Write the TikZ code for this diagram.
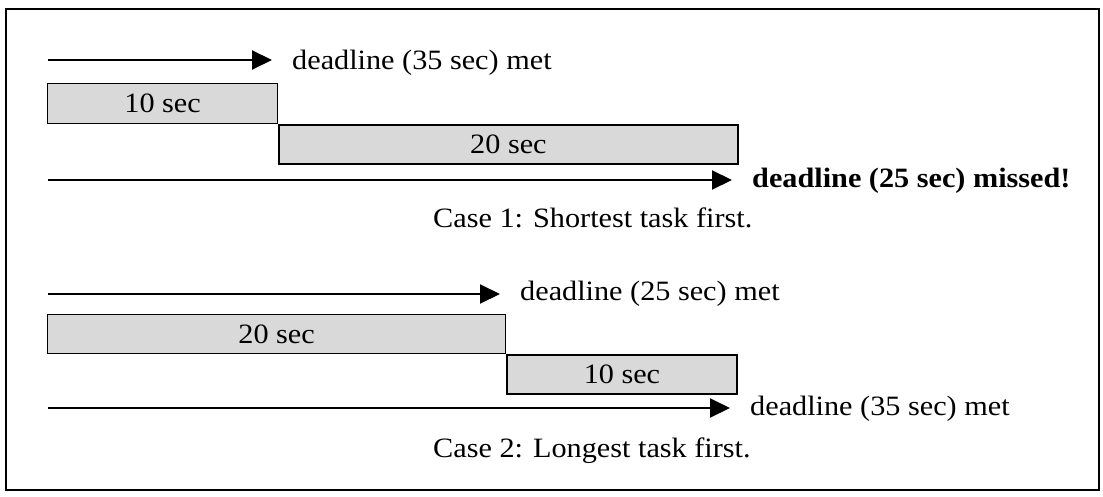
\documentclass[tikz,border=0pt]{standalone}
\usepackage{fontspec}
\setmainfont[FakeStretch=1.08]{Liberation Serif}
\usetikzlibrary{arrows.meta}
\begin{document}
\begin{tikzpicture}[x=1pt,y=-1pt,
  txt/.style={font=\fontsize{28}{30}\selectfont},
  lbl/.style={txt, inner sep=0pt, anchor=base west},
  task/.style={txt, draw, line width=1.3pt, fill=black!15, inner sep=0pt, anchor=north west},
  timeline/.style={line width=2pt, -{Triangle[length=20pt,width=19pt]}, shorten >=20pt}
]
\useasboundingbox (0,0) rectangle (1103,497);
\fill[white] (0,0) rectangle (1103,497);
% outer frame
\draw[line width=1.3pt] (6,9) rectangle (1099,490);

% ---- Case 1: shortest task first ----
\node[task, minimum width=230pt, minimum height=40pt] (a1) at (47,83) {10 sec};
\node[task, minimum width=459pt, minimum height=39pt] (a2) at (a1.south east) {20 sec};
\node[lbl] (d1) at (292,70) {deadline (35 sec) met};
\node[lbl, font=\fontsize{28}{30}\selectfont\bfseries] (d2) at (752,188) {deadline (25 sec) missed!};
\node[lbl] (c1) at (433,228) {Case 1: Shortest task first.};
\coordinate (s1) at (48,60);
\coordinate (s2) at (48,180);
\draw[timeline] (s1) -- (s1 -| d1.west);
\draw[timeline] (s2) -- (s2 -| d2.west);

% ---- Case 2: longest task first ----
\node[task, minimum width=458pt, minimum height=39pt] (b1) at (47,314) {20 sec};
\node[task, minimum width=230pt, minimum height=39pt] (b2) at (b1.south east) {10 sec};
\node[lbl] (d3) at (520,300) {deadline (25 sec) met};
\node[lbl] (d4) at (750,415) {deadline (35 sec) met};
\node[lbl] (c2) at (433,457) {Case 2: Longest task first.};
\coordinate (s3) at (48,294);
\coordinate (s4) at (48,408);
\draw[timeline] (s3) -- (s3 -| d3.west);
\draw[timeline] (s4) -- (s4 -| d4.west);
\end{tikzpicture}
\end{document}
